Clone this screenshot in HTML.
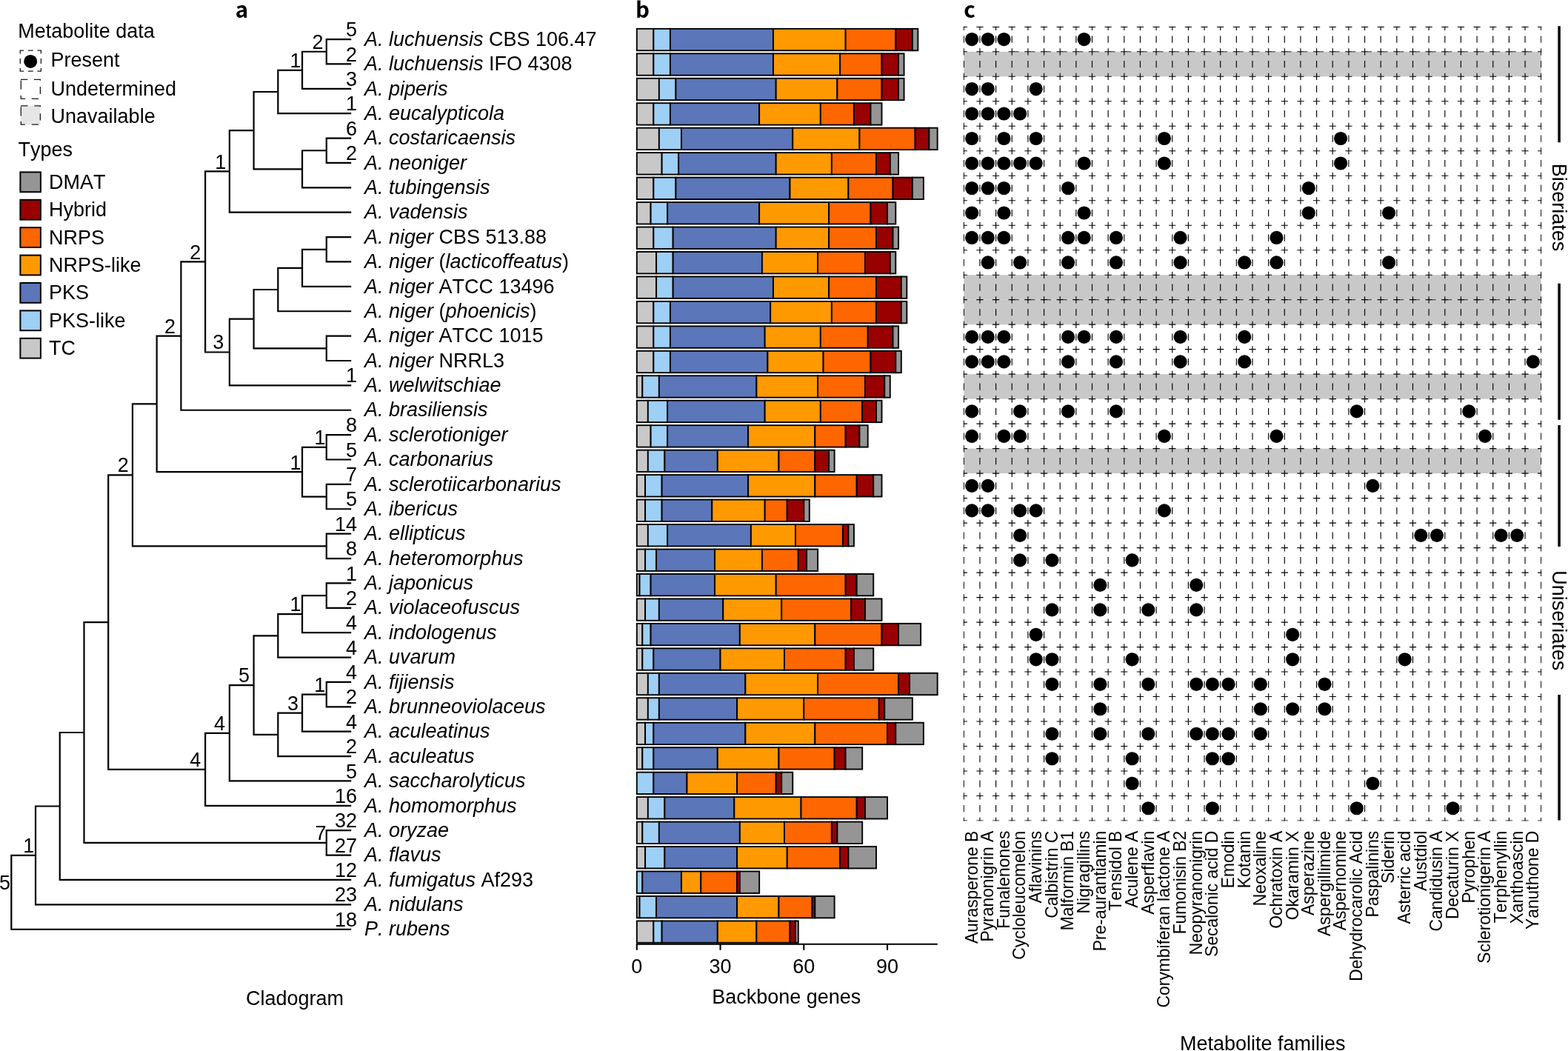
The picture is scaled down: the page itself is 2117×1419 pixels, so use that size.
<!DOCTYPE html>
<html><head><meta charset="utf-8"><title>Figure</title>
<style>
html,body{margin:0;padding:0;background:#fff;}
svg{display:block;}
text{font-family:"Liberation Sans",sans-serif;fill:#000;font-kerning:none;}
.pl{font-family:"Noto Sans CJK JP","Liberation Sans",sans-serif;font-weight:bold;}
.it{font-style:italic;}
</style></head><body>
<svg width="2117" height="1419" viewBox="0 0 2117 1419">
<rect x="0" y="0" width="2117" height="1419" fill="#fff"/>
<g font-size="29.5"><text class="pl" x="317.7" y="24.3">a</text><text class="pl" x="857.9" y="24.3">b</text><text class="pl" x="1301.3" y="24.3">c</text></g>
<g font-size="27"><text transform="translate(24.3 50.8) scale(1 1.042)">Metabolite data</text><text transform="translate(68.6 90.3) scale(1 1.042)">Present</text><text transform="translate(68.6 129.4) scale(1 1.042)">Undetermined</text><text transform="translate(68.6 165.7) scale(1 1.042)">Unavailable</text><text transform="translate(24.6 210.6) scale(1 1.042)">Types</text><rect x="27.4" y="232.4" width="27.5" height="26.8" fill="#959595" stroke="#000" stroke-width="2"/><text transform="translate(66 254.8) scale(1 1.042)">DMAT</text><rect x="27.4" y="269.8" width="27.5" height="26.8" fill="#990000" stroke="#000" stroke-width="2"/><text transform="translate(66 292.2) scale(1 1.042)">Hybrid</text><rect x="27.4" y="307.2" width="27.5" height="26.8" fill="#fe6600" stroke="#000" stroke-width="2"/><text transform="translate(66 329.6) scale(1 1.042)">NRPS</text><rect x="27.4" y="344.6" width="27.5" height="26.8" fill="#fe9900" stroke="#000" stroke-width="2"/><text transform="translate(66 367) scale(1 1.042)">NRPS-like</text><rect x="27.4" y="382" width="27.5" height="26.8" fill="#5b76b9" stroke="#000" stroke-width="2"/><text transform="translate(66 404.4) scale(1 1.042)">PKS</text><rect x="27.4" y="419.4" width="27.5" height="26.8" fill="#9ecff4" stroke="#000" stroke-width="2"/><text transform="translate(66 441.8) scale(1 1.042)">PKS-like</text><rect x="27.4" y="456.8" width="27.5" height="26.8" fill="#c8c8c8" stroke="#000" stroke-width="2"/><text transform="translate(66 479.2) scale(1 1.042)">TC</text></g>
<rect x="28.3" y="142.8" width="26.1" height="25.4" fill="#e6e6e6"/><path d="M26.7 68.1H32.2M37.8 68.1H44.7M50.4 68.1H56M26.7 96.1H32.2M37.8 96.1H44.7M50.4 96.1H56M27.3 68.1V72.6M27.3 79V85.9M27.3 92V96.5M55.4 68.1V72.6M55.4 79V85.9M55.4 92V96.5M28 107.4H37.4M45.9 107.4H55M54.4 107.4V108.8M54.4 117.1V126.9M28 133.3H34.2M42.7 133.3H52M28.3 108.6V120.8M28.3 128.9V133.9M28 142.8H37.4M46.3 142.8H55M54.4 142.8V144.3M54.4 153.2V162.5M28 168.2H33.8M42.7 168.2H52M28.3 144.3V156.4M28.3 163.7V168.8" fill="none" stroke="#1a1a1a" stroke-width="1.3"/>
<circle cx="41.2" cy="82.9" r="9.0" fill="#000"/>
<path d="M440.79 53.05H474.2M440.79 86.43H474.2M440.79 51.95V87.53M408.06 69.74H440.79M408.06 119.81H474.2M408.06 68.64V120.91M375.33 94.78H408.06M375.33 153.19H474.2M375.33 93.68V154.29M342.6 123.98H375.33M440.79 186.57H474.2M440.79 219.95H474.2M440.79 185.47V221.05M408.06 203.26H440.79M408.06 253.33H474.2M408.06 202.16V254.43M342.6 228.3H408.06M342.6 122.88V229.4M309.87 176.14H342.6M309.87 286.71H474.2M309.87 175.04V287.81M277.14 231.42H309.87M440.79 320.09H474.2M440.79 353.47H474.2M440.79 318.99V354.57M408.06 336.78H440.79M408.06 386.85H474.2M408.06 335.68V387.95M375.33 361.82H408.06M375.33 420.23H474.2M375.33 360.72V421.33M342.6 391.02H375.33M440.79 453.61H474.2M440.79 486.99H474.2M440.79 452.51V488.09M342.6 470.3H440.79M342.6 389.92V471.4M309.87 430.66H342.6M309.87 520.37H474.2M309.87 429.56V521.47M277.14 475.52H309.87M277.14 230.32V476.62M244.41 353.47H277.14M244.41 553.75H474.2M244.41 352.37V554.85M211.68 453.61H244.41M440.79 587.13H474.2M440.79 620.51H474.2M440.79 586.03V621.61M408.06 603.82H440.79M440.79 653.89H474.2M440.79 687.27H474.2M440.79 652.79V688.37M408.06 670.58H440.79M408.06 602.72V671.68M211.68 637.2H408.06M211.68 452.51V638.3M178.95 545.4H211.68M440.79 720.65H474.2M440.79 754.03H474.2M440.79 719.55V755.13M178.95 737.34H440.79M178.95 544.3V738.44M146.22 641.37H178.95M440.79 787.41H474.2M440.79 820.79H474.2M440.79 786.31V821.89M408.06 804.1H440.79M408.06 854.17H474.2M408.06 803V855.27M375.33 829.13H408.06M375.33 887.55H474.2M375.33 828.03V888.65M342.6 858.34H375.33M440.79 920.93H474.2M440.79 954.31H474.2M440.79 919.83V955.41M408.06 937.62H440.79M408.06 987.69H474.2M408.06 936.52V988.79M375.33 962.66H408.06M375.33 1021.07H474.2M375.33 961.56V1022.17M342.6 991.86H375.33M342.6 857.24V992.96M309.87 925.1H342.6M309.87 1054.45H474.2M309.87 924V1055.55M277.14 989.78H309.87M277.14 1087.83H474.2M277.14 988.68V1088.93M146.22 1038.8H277.14M146.22 640.27V1039.9M113.49 840.09H146.22M440.79 1121.21H474.2M440.79 1154.59H474.2M440.79 1120.11V1155.69M113.49 1137.9H440.79M113.49 838.99V1139M80.76 988.99H113.49M80.76 1187.97H474.2M80.76 987.89V1189.07M48.03 1088.48H80.76M48.03 1221.35H474.2M48.03 1087.38V1222.45M15.3 1154.92H48.03M15.3 1254.73H474.2M15.3 1153.82V1255.83" fill="none" stroke="#000" stroke-width="2.2"/>
<g font-size="27" text-anchor="end"><text transform="translate(436.4 65.9) scale(1 1.042)">2</text><text transform="translate(406.5 90.7) scale(1 1.042)">1</text><text transform="translate(305.2 227.9) scale(1 1.042)">1</text><text transform="translate(302.2 470.8) scale(1 1.042)">3</text><text transform="translate(271.3 349.5) scale(1 1.042)">2</text><text transform="translate(237 449.7) scale(1 1.042)">2</text><text transform="translate(439.6 599.9) scale(1 1.042)">1</text><text transform="translate(406.5 633.5) scale(1 1.042)">1</text><text transform="translate(173.7 637.4) scale(1 1.042)">2</text><text transform="translate(406.6 825.2) scale(1 1.042)">1</text><text transform="translate(439.3 933.7) scale(1 1.042)">1</text><text transform="translate(402.9 959) scale(1 1.042)">3</text><text transform="translate(336.95 921.4) scale(1 1.042)">5</text><text transform="translate(303.9 985.8) scale(1 1.042)">4</text><text transform="translate(271.2 1034.9) scale(1 1.042)">4</text><text transform="translate(440.4 1133.8) scale(1 1.042)">7</text><text transform="translate(46.3 1150.7) scale(1 1.042)">1</text><text transform="translate(13.97 1201.2) scale(1 1.042)">5</text><text transform="translate(482 49.15) scale(1 1.042)">5</text><text transform="translate(482 82.53) scale(1 1.042)">2</text><text transform="translate(482 115.91) scale(1 1.042)">3</text><text transform="translate(482 149.29) scale(1 1.042)">1</text><text transform="translate(482 182.67) scale(1 1.042)">6</text><text transform="translate(482 216.05) scale(1 1.042)">2</text><text transform="translate(482 516.47) scale(1 1.042)">1</text><text transform="translate(482 583.23) scale(1 1.042)">8</text><text transform="translate(482 616.61) scale(1 1.042)">5</text><text transform="translate(482 649.99) scale(1 1.042)">7</text><text transform="translate(482 683.37) scale(1 1.042)">5</text><text transform="translate(482 716.75) scale(1 1.042)">14</text><text transform="translate(482 750.13) scale(1 1.042)">8</text><text transform="translate(482 783.51) scale(1 1.042)">1</text><text transform="translate(482 816.89) scale(1 1.042)">2</text><text transform="translate(482 850.27) scale(1 1.042)">4</text><text transform="translate(482 883.65) scale(1 1.042)">4</text><text transform="translate(482 917.03) scale(1 1.042)">4</text><text transform="translate(482 950.41) scale(1 1.042)">2</text><text transform="translate(482 983.79) scale(1 1.042)">4</text><text transform="translate(482 1017.17) scale(1 1.042)">2</text><text transform="translate(482 1050.55) scale(1 1.042)">5</text><text transform="translate(482 1083.93) scale(1 1.042)">16</text><text transform="translate(482 1117.31) scale(1 1.042)">32</text><text transform="translate(482 1150.69) scale(1 1.042)">27</text><text transform="translate(482 1184.07) scale(1 1.042)">12</text><text transform="translate(482 1217.45) scale(1 1.042)">23</text><text transform="translate(482 1250.83) scale(1 1.042)">18</text></g>
<g font-size="27"><text transform="translate(492 61.75) scale(1 1.042)"><tspan class="it">A. luchuensis</tspan><tspan>&#160;CBS&#160;106.47</tspan></text><text transform="translate(492 95.13) scale(1 1.042)"><tspan class="it">A. luchuensis</tspan><tspan>&#160;IFO&#160;4308</tspan></text><text transform="translate(492 128.51) scale(1 1.042)"><tspan class="it">A. piperis</tspan></text><text transform="translate(492 161.89) scale(1 1.042)"><tspan class="it">A. eucalypticola</tspan></text><text transform="translate(492 195.27) scale(1 1.042)"><tspan class="it">A. costaricaensis</tspan></text><text transform="translate(492 228.65) scale(1 1.042)"><tspan class="it">A. neoniger</tspan></text><text transform="translate(492 262.03) scale(1 1.042)"><tspan class="it">A. tubingensis</tspan></text><text transform="translate(492 295.41) scale(1 1.042)"><tspan class="it">A. vadensis</tspan></text><text transform="translate(492 328.79) scale(1 1.042)"><tspan class="it">A. niger</tspan><tspan>&#160;CBS&#160;513.88</tspan></text><text transform="translate(492 362.17) scale(1 1.042)"><tspan class="it">A. niger</tspan><tspan>&#160;(</tspan><tspan class="it">lacticoffeatus</tspan><tspan>)</tspan></text><text transform="translate(492 395.55) scale(1 1.042)"><tspan class="it">A. niger</tspan><tspan>&#160;ATCC&#160;13496</tspan></text><text transform="translate(492 428.93) scale(1 1.042)"><tspan class="it">A. niger</tspan><tspan>&#160;(</tspan><tspan class="it">phoenicis</tspan><tspan>)</tspan></text><text transform="translate(492 462.31) scale(1 1.042)"><tspan class="it">A. niger</tspan><tspan>&#160;ATCC&#160;1015</tspan></text><text transform="translate(492 495.69) scale(1 1.042)"><tspan class="it">A. niger</tspan><tspan>&#160;NRRL3</tspan></text><text transform="translate(492 529.07) scale(1 1.042)"><tspan class="it">A. welwitschiae</tspan></text><text transform="translate(492 562.45) scale(1 1.042)"><tspan class="it">A. brasiliensis</tspan></text><text transform="translate(492 595.83) scale(1 1.042)"><tspan class="it">A. sclerotioniger</tspan></text><text transform="translate(492 629.21) scale(1 1.042)"><tspan class="it">A. carbonarius</tspan></text><text transform="translate(492 662.59) scale(1 1.042)"><tspan class="it">A. sclerotiicarbonarius</tspan></text><text transform="translate(492 695.97) scale(1 1.042)"><tspan class="it">A. ibericus</tspan></text><text transform="translate(492 729.35) scale(1 1.042)"><tspan class="it">A. ellipticus</tspan></text><text transform="translate(492 762.73) scale(1 1.042)"><tspan class="it">A. heteromorphus</tspan></text><text transform="translate(492 796.11) scale(1 1.042)"><tspan class="it">A. japonicus</tspan></text><text transform="translate(492 829.49) scale(1 1.042)"><tspan class="it">A. violaceofuscus</tspan></text><text transform="translate(492 862.87) scale(1 1.042)"><tspan class="it">A. indologenus</tspan></text><text transform="translate(492 896.25) scale(1 1.042)"><tspan class="it">A. uvarum</tspan></text><text transform="translate(492 929.63) scale(1 1.042)"><tspan class="it">A. fijiensis</tspan></text><text transform="translate(492 963.01) scale(1 1.042)"><tspan class="it">A. brunneoviolaceus</tspan></text><text transform="translate(492 996.39) scale(1 1.042)"><tspan class="it">A. aculeatinus</tspan></text><text transform="translate(492 1029.77) scale(1 1.042)"><tspan class="it">A. aculeatus</tspan></text><text transform="translate(492 1063.15) scale(1 1.042)"><tspan class="it">A. saccharolyticus</tspan></text><text transform="translate(492 1096.53) scale(1 1.042)"><tspan class="it">A. homomorphus</tspan></text><text transform="translate(492 1129.91) scale(1 1.042)"><tspan class="it">A. oryzae</tspan></text><text transform="translate(492 1163.29) scale(1 1.042)"><tspan class="it">A. flavus</tspan></text><text transform="translate(492 1196.67) scale(1 1.042)"><tspan class="it">A. fumigatus</tspan><tspan>&#160;Af293</tspan></text><text transform="translate(492 1230.05) scale(1 1.042)"><tspan class="it">A. nidulans</tspan></text><text transform="translate(492 1263.43) scale(1 1.042)"><tspan class="it">P. rubens</tspan></text></g>
<text transform="translate(398 1357.2) scale(1 1.042)" text-anchor="middle" font-size="27">Cladogram</text>
<g stroke="#000" stroke-width="1.9"><rect x="859.8" y="38.85" width="22.55" height="29.4" fill="#c8c8c8"/><rect x="882.35" y="38.85" width="22.55" height="29.4" fill="#9ecff4"/><rect x="904.9" y="38.85" width="139.05" height="29.4" fill="#5b76b9"/><rect x="1043.94" y="38.85" width="97.71" height="29.4" fill="#fe9900"/><rect x="1141.65" y="38.85" width="67.64" height="29.4" fill="#fe6600"/><rect x="1209.29" y="38.85" width="22.55" height="29.4" fill="#990000"/><rect x="1231.84" y="38.85" width="7.52" height="29.4" fill="#959595"/><rect x="859.8" y="72.31" width="22.55" height="29.4" fill="#c8c8c8"/><rect x="882.35" y="72.31" width="22.55" height="29.4" fill="#9ecff4"/><rect x="904.9" y="72.31" width="139.05" height="29.4" fill="#5b76b9"/><rect x="1043.94" y="72.31" width="90.19" height="29.4" fill="#fe9900"/><rect x="1134.13" y="72.31" width="56.37" height="29.4" fill="#fe6600"/><rect x="1190.5" y="72.31" width="22.55" height="29.4" fill="#990000"/><rect x="1213.05" y="72.31" width="7.52" height="29.4" fill="#959595"/><rect x="859.8" y="105.77" width="30.06" height="29.4" fill="#c8c8c8"/><rect x="889.86" y="105.77" width="22.55" height="29.4" fill="#9ecff4"/><rect x="912.41" y="105.77" width="135.29" height="29.4" fill="#5b76b9"/><rect x="1047.7" y="105.77" width="82.68" height="29.4" fill="#fe9900"/><rect x="1130.38" y="105.77" width="60.13" height="29.4" fill="#fe6600"/><rect x="1190.5" y="105.77" width="22.55" height="29.4" fill="#990000"/><rect x="1213.05" y="105.77" width="7.52" height="29.4" fill="#959595"/><rect x="859.8" y="139.23" width="22.55" height="29.4" fill="#c8c8c8"/><rect x="882.35" y="139.23" width="22.55" height="29.4" fill="#9ecff4"/><rect x="904.9" y="139.23" width="120.26" height="29.4" fill="#5b76b9"/><rect x="1025.15" y="139.23" width="82.68" height="29.4" fill="#fe9900"/><rect x="1107.83" y="139.23" width="45.1" height="29.4" fill="#fe6600"/><rect x="1152.92" y="139.23" width="22.55" height="29.4" fill="#990000"/><rect x="1175.47" y="139.23" width="15.03" height="29.4" fill="#959595"/><rect x="859.8" y="172.69" width="30.06" height="29.4" fill="#c8c8c8"/><rect x="889.86" y="172.69" width="30.06" height="29.4" fill="#9ecff4"/><rect x="919.93" y="172.69" width="150.32" height="29.4" fill="#5b76b9"/><rect x="1070.25" y="172.69" width="90.19" height="29.4" fill="#fe9900"/><rect x="1160.44" y="172.69" width="75.16" height="29.4" fill="#fe6600"/><rect x="1235.6" y="172.69" width="18.79" height="29.4" fill="#990000"/><rect x="1254.39" y="172.69" width="11.27" height="29.4" fill="#959595"/><rect x="859.8" y="206.15" width="33.82" height="29.4" fill="#c8c8c8"/><rect x="893.62" y="206.15" width="22.55" height="29.4" fill="#9ecff4"/><rect x="916.17" y="206.15" width="131.53" height="29.4" fill="#5b76b9"/><rect x="1047.7" y="206.15" width="75.16" height="29.4" fill="#fe9900"/><rect x="1122.86" y="206.15" width="60.13" height="29.4" fill="#fe6600"/><rect x="1182.99" y="206.15" width="18.79" height="29.4" fill="#990000"/><rect x="1201.78" y="206.15" width="11.27" height="29.4" fill="#959595"/><rect x="859.8" y="239.61" width="22.55" height="29.4" fill="#c8c8c8"/><rect x="882.35" y="239.61" width="30.06" height="29.4" fill="#9ecff4"/><rect x="912.41" y="239.61" width="154.08" height="29.4" fill="#5b76b9"/><rect x="1066.49" y="239.61" width="78.92" height="29.4" fill="#fe9900"/><rect x="1145.41" y="239.61" width="60.13" height="29.4" fill="#fe6600"/><rect x="1205.54" y="239.61" width="26.31" height="29.4" fill="#990000"/><rect x="1231.84" y="239.61" width="15.03" height="29.4" fill="#959595"/><rect x="859.8" y="273.07" width="18.79" height="29.4" fill="#c8c8c8"/><rect x="878.59" y="273.07" width="22.55" height="29.4" fill="#9ecff4"/><rect x="901.14" y="273.07" width="124.01" height="29.4" fill="#5b76b9"/><rect x="1025.15" y="273.07" width="93.95" height="29.4" fill="#fe9900"/><rect x="1119.1" y="273.07" width="56.37" height="29.4" fill="#fe6600"/><rect x="1175.47" y="273.07" width="22.55" height="29.4" fill="#990000"/><rect x="1198.02" y="273.07" width="11.27" height="29.4" fill="#959595"/><rect x="859.8" y="306.53" width="22.55" height="29.4" fill="#c8c8c8"/><rect x="882.35" y="306.53" width="26.31" height="29.4" fill="#9ecff4"/><rect x="908.65" y="306.53" width="139.05" height="29.4" fill="#5b76b9"/><rect x="1047.7" y="306.53" width="71.4" height="29.4" fill="#fe9900"/><rect x="1119.1" y="306.53" width="63.89" height="29.4" fill="#fe6600"/><rect x="1182.99" y="306.53" width="22.55" height="29.4" fill="#990000"/><rect x="1205.54" y="306.53" width="7.52" height="29.4" fill="#959595"/><rect x="859.8" y="339.99" width="26.31" height="29.4" fill="#c8c8c8"/><rect x="886.11" y="339.99" width="22.55" height="29.4" fill="#9ecff4"/><rect x="908.65" y="339.99" width="120.26" height="29.4" fill="#5b76b9"/><rect x="1028.91" y="339.99" width="75.16" height="29.4" fill="#fe9900"/><rect x="1104.07" y="339.99" width="63.89" height="29.4" fill="#fe6600"/><rect x="1167.96" y="339.99" width="33.82" height="29.4" fill="#990000"/><rect x="1201.78" y="339.99" width="7.52" height="29.4" fill="#959595"/><rect x="859.8" y="373.45" width="26.31" height="29.4" fill="#c8c8c8"/><rect x="886.11" y="373.45" width="22.55" height="29.4" fill="#9ecff4"/><rect x="908.65" y="373.45" width="135.29" height="29.4" fill="#5b76b9"/><rect x="1043.94" y="373.45" width="75.16" height="29.4" fill="#fe9900"/><rect x="1119.1" y="373.45" width="63.89" height="29.4" fill="#fe6600"/><rect x="1182.99" y="373.45" width="33.82" height="29.4" fill="#990000"/><rect x="1216.81" y="373.45" width="7.52" height="29.4" fill="#959595"/><rect x="859.8" y="406.91" width="22.55" height="29.4" fill="#c8c8c8"/><rect x="882.35" y="406.91" width="22.55" height="29.4" fill="#9ecff4"/><rect x="904.9" y="406.91" width="135.29" height="29.4" fill="#5b76b9"/><rect x="1040.18" y="406.91" width="82.68" height="29.4" fill="#fe9900"/><rect x="1122.86" y="406.91" width="60.13" height="29.4" fill="#fe6600"/><rect x="1182.99" y="406.91" width="33.82" height="29.4" fill="#990000"/><rect x="1216.81" y="406.91" width="7.52" height="29.4" fill="#959595"/><rect x="859.8" y="440.37" width="22.55" height="29.4" fill="#c8c8c8"/><rect x="882.35" y="440.37" width="22.55" height="29.4" fill="#9ecff4"/><rect x="904.9" y="440.37" width="127.77" height="29.4" fill="#5b76b9"/><rect x="1032.67" y="440.37" width="75.16" height="29.4" fill="#fe9900"/><rect x="1107.83" y="440.37" width="63.89" height="29.4" fill="#fe6600"/><rect x="1171.71" y="440.37" width="33.82" height="29.4" fill="#990000"/><rect x="1205.54" y="440.37" width="7.52" height="29.4" fill="#959595"/><rect x="859.8" y="473.83" width="22.55" height="29.4" fill="#c8c8c8"/><rect x="882.35" y="473.83" width="22.55" height="29.4" fill="#9ecff4"/><rect x="904.9" y="473.83" width="131.53" height="29.4" fill="#5b76b9"/><rect x="1036.43" y="473.83" width="75.16" height="29.4" fill="#fe9900"/><rect x="1111.59" y="473.83" width="63.89" height="29.4" fill="#fe6600"/><rect x="1175.47" y="473.83" width="33.82" height="29.4" fill="#990000"/><rect x="1209.29" y="473.83" width="7.52" height="29.4" fill="#959595"/><rect x="859.8" y="507.29" width="7.52" height="29.4" fill="#c8c8c8"/><rect x="867.32" y="507.29" width="22.55" height="29.4" fill="#9ecff4"/><rect x="889.86" y="507.29" width="131.53" height="29.4" fill="#5b76b9"/><rect x="1021.39" y="507.29" width="82.68" height="29.4" fill="#fe9900"/><rect x="1104.07" y="507.29" width="63.89" height="29.4" fill="#fe6600"/><rect x="1167.96" y="507.29" width="26.31" height="29.4" fill="#990000"/><rect x="1194.26" y="507.29" width="7.52" height="29.4" fill="#959595"/><rect x="859.8" y="540.75" width="15.03" height="29.4" fill="#c8c8c8"/><rect x="874.83" y="540.75" width="26.31" height="29.4" fill="#9ecff4"/><rect x="901.14" y="540.75" width="131.53" height="29.4" fill="#5b76b9"/><rect x="1032.67" y="540.75" width="75.16" height="29.4" fill="#fe9900"/><rect x="1107.83" y="540.75" width="56.37" height="29.4" fill="#fe6600"/><rect x="1164.2" y="540.75" width="18.79" height="29.4" fill="#990000"/><rect x="1182.99" y="540.75" width="7.52" height="29.4" fill="#959595"/><rect x="859.8" y="574.21" width="18.79" height="29.4" fill="#c8c8c8"/><rect x="878.59" y="574.21" width="22.55" height="29.4" fill="#9ecff4"/><rect x="901.14" y="574.21" width="108.98" height="29.4" fill="#5b76b9"/><rect x="1010.12" y="574.21" width="90.19" height="29.4" fill="#fe9900"/><rect x="1100.31" y="574.21" width="41.34" height="29.4" fill="#fe6600"/><rect x="1141.65" y="574.21" width="18.79" height="29.4" fill="#990000"/><rect x="1160.44" y="574.21" width="11.27" height="29.4" fill="#959595"/><rect x="859.8" y="607.67" width="15.03" height="29.4" fill="#c8c8c8"/><rect x="874.83" y="607.67" width="22.55" height="29.4" fill="#9ecff4"/><rect x="897.38" y="607.67" width="71.4" height="29.4" fill="#5b76b9"/><rect x="968.78" y="607.67" width="82.68" height="29.4" fill="#fe9900"/><rect x="1051.46" y="607.67" width="48.85" height="29.4" fill="#fe6600"/><rect x="1100.31" y="607.67" width="18.79" height="29.4" fill="#990000"/><rect x="1119.1" y="607.67" width="7.52" height="29.4" fill="#959595"/><rect x="859.8" y="641.13" width="11.27" height="29.4" fill="#c8c8c8"/><rect x="871.07" y="641.13" width="22.55" height="29.4" fill="#9ecff4"/><rect x="893.62" y="641.13" width="116.5" height="29.4" fill="#5b76b9"/><rect x="1010.12" y="641.13" width="90.19" height="29.4" fill="#fe9900"/><rect x="1100.31" y="641.13" width="56.37" height="29.4" fill="#fe6600"/><rect x="1156.68" y="641.13" width="22.55" height="29.4" fill="#990000"/><rect x="1179.23" y="641.13" width="11.27" height="29.4" fill="#959595"/><rect x="859.8" y="674.59" width="11.27" height="29.4" fill="#c8c8c8"/><rect x="871.07" y="674.59" width="22.55" height="29.4" fill="#9ecff4"/><rect x="893.62" y="674.59" width="67.64" height="29.4" fill="#5b76b9"/><rect x="961.27" y="674.59" width="71.4" height="29.4" fill="#fe9900"/><rect x="1032.67" y="674.59" width="30.06" height="29.4" fill="#fe6600"/><rect x="1062.73" y="674.59" width="22.55" height="29.4" fill="#990000"/><rect x="1085.28" y="674.59" width="7.52" height="29.4" fill="#959595"/><rect x="859.8" y="708.05" width="15.03" height="29.4" fill="#c8c8c8"/><rect x="874.83" y="708.05" width="26.31" height="29.4" fill="#9ecff4"/><rect x="901.14" y="708.05" width="112.74" height="29.4" fill="#5b76b9"/><rect x="1013.88" y="708.05" width="60.13" height="29.4" fill="#fe9900"/><rect x="1074.01" y="708.05" width="63.89" height="29.4" fill="#fe6600"/><rect x="1137.89" y="708.05" width="7.52" height="29.4" fill="#990000"/><rect x="1145.41" y="708.05" width="7.52" height="29.4" fill="#959595"/><rect x="859.8" y="741.51" width="11.27" height="29.4" fill="#c8c8c8"/><rect x="871.07" y="741.51" width="15.03" height="29.4" fill="#9ecff4"/><rect x="886.11" y="741.51" width="78.92" height="29.4" fill="#5b76b9"/><rect x="965.02" y="741.51" width="63.89" height="29.4" fill="#fe9900"/><rect x="1028.91" y="741.51" width="48.85" height="29.4" fill="#fe6600"/><rect x="1077.76" y="741.51" width="11.27" height="29.4" fill="#990000"/><rect x="1089.04" y="741.51" width="15.03" height="29.4" fill="#959595"/><rect x="859.8" y="774.97" width="3.76" height="29.4" fill="#c8c8c8"/><rect x="863.56" y="774.97" width="15.03" height="29.4" fill="#9ecff4"/><rect x="878.59" y="774.97" width="86.43" height="29.4" fill="#5b76b9"/><rect x="965.02" y="774.97" width="82.68" height="29.4" fill="#fe9900"/><rect x="1047.7" y="774.97" width="93.95" height="29.4" fill="#fe6600"/><rect x="1141.65" y="774.97" width="15.03" height="29.4" fill="#990000"/><rect x="1156.68" y="774.97" width="22.55" height="29.4" fill="#959595"/><rect x="859.8" y="808.43" width="11.27" height="29.4" fill="#c8c8c8"/><rect x="871.07" y="808.43" width="18.79" height="29.4" fill="#9ecff4"/><rect x="889.86" y="808.43" width="86.43" height="29.4" fill="#5b76b9"/><rect x="976.3" y="808.43" width="78.92" height="29.4" fill="#fe9900"/><rect x="1055.22" y="808.43" width="93.95" height="29.4" fill="#fe6600"/><rect x="1149.17" y="808.43" width="18.79" height="29.4" fill="#990000"/><rect x="1167.96" y="808.43" width="22.55" height="29.4" fill="#959595"/><rect x="859.8" y="841.89" width="7.52" height="29.4" fill="#c8c8c8"/><rect x="867.32" y="841.89" width="11.27" height="29.4" fill="#9ecff4"/><rect x="878.59" y="841.89" width="120.26" height="29.4" fill="#5b76b9"/><rect x="998.85" y="841.89" width="101.47" height="29.4" fill="#fe9900"/><rect x="1100.31" y="841.89" width="90.19" height="29.4" fill="#fe6600"/><rect x="1190.5" y="841.89" width="22.55" height="29.4" fill="#990000"/><rect x="1213.05" y="841.89" width="30.06" height="29.4" fill="#959595"/><rect x="859.8" y="875.35" width="7.52" height="29.4" fill="#c8c8c8"/><rect x="867.32" y="875.35" width="15.03" height="29.4" fill="#9ecff4"/><rect x="882.35" y="875.35" width="90.19" height="29.4" fill="#5b76b9"/><rect x="972.54" y="875.35" width="86.43" height="29.4" fill="#fe9900"/><rect x="1058.97" y="875.35" width="82.68" height="29.4" fill="#fe6600"/><rect x="1141.65" y="875.35" width="11.27" height="29.4" fill="#990000"/><rect x="1152.92" y="875.35" width="26.31" height="29.4" fill="#959595"/><rect x="859.8" y="908.81" width="15.03" height="29.4" fill="#c8c8c8"/><rect x="874.83" y="908.81" width="15.03" height="29.4" fill="#9ecff4"/><rect x="889.86" y="908.81" width="116.5" height="29.4" fill="#5b76b9"/><rect x="1006.36" y="908.81" width="97.71" height="29.4" fill="#fe9900"/><rect x="1104.07" y="908.81" width="108.98" height="29.4" fill="#fe6600"/><rect x="1213.05" y="908.81" width="15.03" height="29.4" fill="#990000"/><rect x="1228.08" y="908.81" width="37.58" height="29.4" fill="#959595"/><rect x="859.8" y="942.27" width="15.03" height="29.4" fill="#c8c8c8"/><rect x="874.83" y="942.27" width="15.03" height="29.4" fill="#9ecff4"/><rect x="889.86" y="942.27" width="105.22" height="29.4" fill="#5b76b9"/><rect x="995.09" y="942.27" width="90.19" height="29.4" fill="#fe9900"/><rect x="1085.28" y="942.27" width="101.47" height="29.4" fill="#fe6600"/><rect x="1186.75" y="942.27" width="7.52" height="29.4" fill="#990000"/><rect x="1194.26" y="942.27" width="37.58" height="29.4" fill="#959595"/><rect x="859.8" y="975.73" width="11.27" height="29.4" fill="#c8c8c8"/><rect x="871.07" y="975.73" width="11.27" height="29.4" fill="#9ecff4"/><rect x="882.35" y="975.73" width="124.01" height="29.4" fill="#5b76b9"/><rect x="1006.36" y="975.73" width="93.95" height="29.4" fill="#fe9900"/><rect x="1100.31" y="975.73" width="97.71" height="29.4" fill="#fe6600"/><rect x="1198.02" y="975.73" width="11.27" height="29.4" fill="#990000"/><rect x="1209.29" y="975.73" width="37.58" height="29.4" fill="#959595"/><rect x="859.8" y="1009.19" width="7.52" height="29.4" fill="#c8c8c8"/><rect x="867.32" y="1009.19" width="15.03" height="29.4" fill="#9ecff4"/><rect x="882.35" y="1009.19" width="86.43" height="29.4" fill="#5b76b9"/><rect x="968.78" y="1009.19" width="82.68" height="29.4" fill="#fe9900"/><rect x="1051.46" y="1009.19" width="75.16" height="29.4" fill="#fe6600"/><rect x="1126.62" y="1009.19" width="15.03" height="29.4" fill="#990000"/><rect x="1141.65" y="1009.19" width="22.55" height="29.4" fill="#959595"/><rect x="859.8" y="1042.65" width="22.55" height="29.4" fill="#9ecff4"/><rect x="882.35" y="1042.65" width="45.1" height="29.4" fill="#5b76b9"/><rect x="927.44" y="1042.65" width="67.64" height="29.4" fill="#fe9900"/><rect x="995.09" y="1042.65" width="52.61" height="29.4" fill="#fe6600"/><rect x="1047.7" y="1042.65" width="7.52" height="29.4" fill="#990000"/><rect x="1055.22" y="1042.65" width="15.03" height="29.4" fill="#959595"/><rect x="859.8" y="1076.11" width="15.03" height="29.4" fill="#c8c8c8"/><rect x="874.83" y="1076.11" width="22.55" height="29.4" fill="#9ecff4"/><rect x="897.38" y="1076.11" width="93.95" height="29.4" fill="#5b76b9"/><rect x="991.33" y="1076.11" width="90.19" height="29.4" fill="#fe9900"/><rect x="1081.52" y="1076.11" width="75.16" height="29.4" fill="#fe6600"/><rect x="1156.68" y="1076.11" width="11.27" height="29.4" fill="#990000"/><rect x="1167.96" y="1076.11" width="30.06" height="29.4" fill="#959595"/><rect x="859.8" y="1109.57" width="7.52" height="29.4" fill="#c8c8c8"/><rect x="867.32" y="1109.57" width="22.55" height="29.4" fill="#9ecff4"/><rect x="889.86" y="1109.57" width="108.98" height="29.4" fill="#5b76b9"/><rect x="998.85" y="1109.57" width="60.13" height="29.4" fill="#fe9900"/><rect x="1058.97" y="1109.57" width="63.89" height="29.4" fill="#fe6600"/><rect x="1122.86" y="1109.57" width="7.52" height="29.4" fill="#990000"/><rect x="1130.38" y="1109.57" width="33.82" height="29.4" fill="#959595"/><rect x="859.8" y="1143.03" width="11.27" height="29.4" fill="#c8c8c8"/><rect x="871.07" y="1143.03" width="26.31" height="29.4" fill="#9ecff4"/><rect x="897.38" y="1143.03" width="97.71" height="29.4" fill="#5b76b9"/><rect x="995.09" y="1143.03" width="67.64" height="29.4" fill="#fe9900"/><rect x="1062.73" y="1143.03" width="71.4" height="29.4" fill="#fe6600"/><rect x="1134.13" y="1143.03" width="11.27" height="29.4" fill="#990000"/><rect x="1145.41" y="1143.03" width="37.58" height="29.4" fill="#959595"/><rect x="859.8" y="1176.49" width="7.52" height="29.4" fill="#9ecff4"/><rect x="867.32" y="1176.49" width="52.61" height="29.4" fill="#5b76b9"/><rect x="919.93" y="1176.49" width="26.31" height="29.4" fill="#fe9900"/><rect x="946.23" y="1176.49" width="48.85" height="29.4" fill="#fe6600"/><rect x="995.09" y="1176.49" width="3.76" height="29.4" fill="#990000"/><rect x="998.85" y="1176.49" width="26.31" height="29.4" fill="#959595"/><rect x="859.8" y="1209.95" width="3.76" height="29.4" fill="#c8c8c8"/><rect x="863.56" y="1209.95" width="22.55" height="29.4" fill="#9ecff4"/><rect x="886.11" y="1209.95" width="108.98" height="29.4" fill="#5b76b9"/><rect x="995.09" y="1209.95" width="56.37" height="29.4" fill="#fe9900"/><rect x="1051.46" y="1209.95" width="45.1" height="29.4" fill="#fe6600"/><rect x="1096.55" y="1209.95" width="3.76" height="29.4" fill="#990000"/><rect x="1100.31" y="1209.95" width="26.31" height="29.4" fill="#959595"/><rect x="859.8" y="1243.41" width="22.55" height="29.4" fill="#c8c8c8"/><rect x="882.35" y="1243.41" width="11.27" height="29.4" fill="#9ecff4"/><rect x="893.62" y="1243.41" width="75.16" height="29.4" fill="#5b76b9"/><rect x="968.78" y="1243.41" width="52.61" height="29.4" fill="#fe9900"/><rect x="1021.39" y="1243.41" width="45.1" height="29.4" fill="#fe6600"/><rect x="1066.49" y="1243.41" width="7.52" height="29.4" fill="#990000"/><rect x="1074.01" y="1243.41" width="3.76" height="29.4" fill="#959595"/></g>
<path d="M858.9 1274.7H1265.8M859.8 1274.7V1282.7M972.54 1274.7V1282.7M1085.28 1274.7V1282.7M1198.02 1274.7V1282.7" fill="none" stroke="#000" stroke-width="2.1"/>
<g font-size="27" text-anchor="middle"><text transform="translate(859.8 1313.6) scale(1 1.042)">0</text><text transform="translate(972.54 1313.6) scale(1 1.042)">30</text><text transform="translate(1085.28 1313.6) scale(1 1.042)">60</text><text transform="translate(1198.02 1313.6) scale(1 1.042)">90</text><text transform="translate(1061.7 1354.7) scale(1 1.042)">Backbone genes</text></g>
<rect x="1301.3" y="69.79" width="779.4" height="33.49" fill="#c8c8c8"/><rect x="1301.3" y="371.2" width="779.4" height="33.49" fill="#c8c8c8"/><rect x="1301.3" y="404.69" width="779.4" height="33.49" fill="#c8c8c8"/><rect x="1301.3" y="505.16" width="779.4" height="33.49" fill="#c8c8c8"/><rect x="1301.3" y="605.63" width="779.4" height="33.49" fill="#c8c8c8"/>
<defs><clipPath id="gc"><rect x="1300.7" y="35.7" width="780.6" height="1072.88"/></clipPath></defs>
<g clip-path="url(#gc)" fill="none" stroke="#000" stroke-width="1.15"><path d="M1301.3 31.7V1112.58M1322.95 31.7V1112.58M1344.6 31.7V1112.58M1366.25 31.7V1112.58M1387.9 31.7V1112.58M1409.55 31.7V1112.58M1431.2 31.7V1112.58M1452.85 31.7V1112.58M1474.5 31.7V1112.58M1496.15 31.7V1112.58M1517.8 31.7V1112.58M1539.45 31.7V1112.58M1561.1 31.7V1112.58M1582.75 31.7V1112.58M1604.4 31.7V1112.58M1626.05 31.7V1112.58M1647.7 31.7V1112.58M1669.35 31.7V1112.58M1691 31.7V1112.58M1712.65 31.7V1112.58M1734.3 31.7V1112.58M1755.95 31.7V1112.58M1777.6 31.7V1112.58M1799.25 31.7V1112.58M1820.9 31.7V1112.58M1842.55 31.7V1112.58M1864.2 31.7V1112.58M1885.85 31.7V1112.58M1907.5 31.7V1112.58M1929.15 31.7V1112.58M1950.8 31.7V1112.58M1972.45 31.7V1112.58M1994.1 31.7V1112.58M2015.75 31.7V1112.58M2037.4 31.7V1112.58M2059.05 31.7V1112.58M2080.7 31.7V1112.58" stroke-dasharray="9.2 7.55"/><path d="M1296.7 36.3H2085.3M1296.7 69.79H2085.3M1296.7 103.28H2085.3M1296.7 136.77H2085.3M1296.7 170.26H2085.3M1296.7 203.75H2085.3M1296.7 237.24H2085.3M1296.7 270.73H2085.3M1296.7 304.22H2085.3M1296.7 337.71H2085.3M1296.7 371.2H2085.3M1296.7 404.69H2085.3M1296.7 438.18H2085.3M1296.7 471.67H2085.3M1296.7 505.16H2085.3M1296.7 538.65H2085.3M1296.7 572.14H2085.3M1296.7 605.63H2085.3M1296.7 639.12H2085.3M1296.7 672.61H2085.3M1296.7 706.1H2085.3M1296.7 739.59H2085.3M1296.7 773.08H2085.3M1296.7 806.57H2085.3M1296.7 840.06H2085.3M1296.7 873.55H2085.3M1296.7 907.04H2085.3M1296.7 940.53H2085.3M1296.7 974.02H2085.3M1296.7 1007.51H2085.3M1296.7 1041H2085.3M1296.7 1074.49H2085.3M1296.7 1107.98H2085.3" stroke-dasharray="9.2 12.45"/></g>
<path d="M1370.85 69.79H1375.65M1392.5 69.79H1397.3M1414.15 69.79H1418.95M1435.8 69.79H1440.6M1457.45 69.79H1462.25M1479.1 69.79H1483.9M1500.75 69.79H1505.55M1522.4 69.79H1527.2M1544.05 69.79H1548.85M1565.7 69.79H1570.5M1587.35 69.79H1592.15M1609 69.79H1613.8M1630.65 69.79H1635.45M1652.3 69.79H1657.1M1673.95 69.79H1678.75M1695.6 69.79H1700.4M1717.25 69.79H1722.05M1738.9 69.79H1743.7M1760.55 69.79H1765.35M1782.2 69.79H1787M1803.85 69.79H1808.65M1825.5 69.79H1830.3M1847.15 69.79H1851.95M1868.8 69.79H1873.6M1890.45 69.79H1895.25M1912.1 69.79H1916.9M1933.75 69.79H1938.55M1955.4 69.79H1960.2M1977.05 69.79H1981.85M1998.7 69.79H2003.5M2020.35 69.79H2025.15M2042 69.79H2046.8M2063.65 69.79H2068.45M1370.85 404.69H1375.65M1392.5 404.69H1397.3M1414.15 404.69H1418.95M1435.8 404.69H1440.6M1457.45 404.69H1462.25M1479.1 404.69H1483.9M1500.75 404.69H1505.55M1522.4 404.69H1527.2M1544.05 404.69H1548.85M1565.7 404.69H1570.5M1587.35 404.69H1592.15M1609 404.69H1613.8M1630.65 404.69H1635.45M1652.3 404.69H1657.1M1673.95 404.69H1678.75M1695.6 404.69H1700.4M1717.25 404.69H1722.05M1738.9 404.69H1743.7M1760.55 404.69H1765.35M1782.2 404.69H1787M1803.85 404.69H1808.65M1825.5 404.69H1830.3M1847.15 404.69H1851.95M1868.8 404.69H1873.6M1890.45 404.69H1895.25M1912.1 404.69H1916.9M1933.75 404.69H1938.55M1955.4 404.69H1960.2M1977.05 404.69H1981.85M1998.7 404.69H2003.5M2020.35 404.69H2025.15M2042 404.69H2046.8M2063.65 404.69H2068.45" stroke="#2a2a2a" stroke-width="1" fill="none"/>
<g fill="#000"><circle cx="1312.12" cy="53.05" r="9.1"/><circle cx="1333.77" cy="53.05" r="9.1"/><circle cx="1355.42" cy="53.05" r="9.1"/><circle cx="1463.67" cy="53.05" r="9.1"/><circle cx="1312.12" cy="120.03" r="9.1"/><circle cx="1333.77" cy="120.03" r="9.1"/><circle cx="1398.72" cy="120.03" r="9.1"/><circle cx="1312.12" cy="153.51" r="9.1"/><circle cx="1333.77" cy="153.51" r="9.1"/><circle cx="1355.42" cy="153.51" r="9.1"/><circle cx="1377.08" cy="153.51" r="9.1"/><circle cx="1312.12" cy="187" r="9.1"/><circle cx="1355.42" cy="187" r="9.1"/><circle cx="1398.72" cy="187" r="9.1"/><circle cx="1571.92" cy="187" r="9.1"/><circle cx="1810.07" cy="187" r="9.1"/><circle cx="1312.12" cy="220.5" r="9.1"/><circle cx="1333.77" cy="220.5" r="9.1"/><circle cx="1355.42" cy="220.5" r="9.1"/><circle cx="1377.08" cy="220.5" r="9.1"/><circle cx="1398.72" cy="220.5" r="9.1"/><circle cx="1463.67" cy="220.5" r="9.1"/><circle cx="1571.92" cy="220.5" r="9.1"/><circle cx="1810.07" cy="220.5" r="9.1"/><circle cx="1312.12" cy="253.99" r="9.1"/><circle cx="1333.77" cy="253.99" r="9.1"/><circle cx="1355.42" cy="253.99" r="9.1"/><circle cx="1442.02" cy="253.99" r="9.1"/><circle cx="1766.77" cy="253.99" r="9.1"/><circle cx="1312.12" cy="287.48" r="9.1"/><circle cx="1355.42" cy="287.48" r="9.1"/><circle cx="1463.67" cy="287.48" r="9.1"/><circle cx="1766.77" cy="287.48" r="9.1"/><circle cx="1875.02" cy="287.48" r="9.1"/><circle cx="1312.12" cy="320.97" r="9.1"/><circle cx="1333.77" cy="320.97" r="9.1"/><circle cx="1355.42" cy="320.97" r="9.1"/><circle cx="1442.02" cy="320.97" r="9.1"/><circle cx="1463.67" cy="320.97" r="9.1"/><circle cx="1506.97" cy="320.97" r="9.1"/><circle cx="1593.57" cy="320.97" r="9.1"/><circle cx="1723.47" cy="320.97" r="9.1"/><circle cx="1333.77" cy="354.46" r="9.1"/><circle cx="1377.08" cy="354.46" r="9.1"/><circle cx="1442.02" cy="354.46" r="9.1"/><circle cx="1506.97" cy="354.46" r="9.1"/><circle cx="1593.57" cy="354.46" r="9.1"/><circle cx="1680.17" cy="354.46" r="9.1"/><circle cx="1723.47" cy="354.46" r="9.1"/><circle cx="1875.02" cy="354.46" r="9.1"/><circle cx="1312.12" cy="454.93" r="9.1"/><circle cx="1333.77" cy="454.93" r="9.1"/><circle cx="1355.42" cy="454.93" r="9.1"/><circle cx="1442.02" cy="454.93" r="9.1"/><circle cx="1463.67" cy="454.93" r="9.1"/><circle cx="1506.97" cy="454.93" r="9.1"/><circle cx="1593.57" cy="454.93" r="9.1"/><circle cx="1680.17" cy="454.93" r="9.1"/><circle cx="1312.12" cy="488.42" r="9.1"/><circle cx="1333.77" cy="488.42" r="9.1"/><circle cx="1355.42" cy="488.42" r="9.1"/><circle cx="1442.02" cy="488.42" r="9.1"/><circle cx="1506.97" cy="488.42" r="9.1"/><circle cx="1593.57" cy="488.42" r="9.1"/><circle cx="1680.17" cy="488.42" r="9.1"/><circle cx="2069.88" cy="488.42" r="9.1"/><circle cx="1312.12" cy="555.39" r="9.1"/><circle cx="1377.08" cy="555.39" r="9.1"/><circle cx="1442.02" cy="555.39" r="9.1"/><circle cx="1506.97" cy="555.39" r="9.1"/><circle cx="1831.72" cy="555.39" r="9.1"/><circle cx="1983.27" cy="555.39" r="9.1"/><circle cx="1312.12" cy="588.88" r="9.1"/><circle cx="1355.42" cy="588.88" r="9.1"/><circle cx="1377.08" cy="588.88" r="9.1"/><circle cx="1571.92" cy="588.88" r="9.1"/><circle cx="1723.47" cy="588.88" r="9.1"/><circle cx="2004.92" cy="588.88" r="9.1"/><circle cx="1312.12" cy="655.87" r="9.1"/><circle cx="1333.77" cy="655.87" r="9.1"/><circle cx="1853.38" cy="655.87" r="9.1"/><circle cx="1312.12" cy="689.36" r="9.1"/><circle cx="1333.77" cy="689.36" r="9.1"/><circle cx="1377.08" cy="689.36" r="9.1"/><circle cx="1398.72" cy="689.36" r="9.1"/><circle cx="1571.92" cy="689.36" r="9.1"/><circle cx="1377.08" cy="722.85" r="9.1"/><circle cx="1918.32" cy="722.85" r="9.1"/><circle cx="1939.97" cy="722.85" r="9.1"/><circle cx="2026.57" cy="722.85" r="9.1"/><circle cx="2048.22" cy="722.85" r="9.1"/><circle cx="1377.08" cy="756.34" r="9.1"/><circle cx="1420.38" cy="756.34" r="9.1"/><circle cx="1528.62" cy="756.34" r="9.1"/><circle cx="1485.32" cy="789.83" r="9.1"/><circle cx="1615.22" cy="789.83" r="9.1"/><circle cx="1420.38" cy="823.32" r="9.1"/><circle cx="1485.32" cy="823.32" r="9.1"/><circle cx="1550.27" cy="823.32" r="9.1"/><circle cx="1615.22" cy="823.32" r="9.1"/><circle cx="1398.72" cy="856.8" r="9.1"/><circle cx="1745.12" cy="856.8" r="9.1"/><circle cx="1398.72" cy="890.29" r="9.1"/><circle cx="1420.38" cy="890.29" r="9.1"/><circle cx="1528.62" cy="890.29" r="9.1"/><circle cx="1745.12" cy="890.29" r="9.1"/><circle cx="1896.67" cy="890.29" r="9.1"/><circle cx="1420.38" cy="923.78" r="9.1"/><circle cx="1485.32" cy="923.78" r="9.1"/><circle cx="1550.27" cy="923.78" r="9.1"/><circle cx="1615.22" cy="923.78" r="9.1"/><circle cx="1636.88" cy="923.78" r="9.1"/><circle cx="1658.52" cy="923.78" r="9.1"/><circle cx="1701.82" cy="923.78" r="9.1"/><circle cx="1788.42" cy="923.78" r="9.1"/><circle cx="1485.32" cy="957.27" r="9.1"/><circle cx="1701.82" cy="957.27" r="9.1"/><circle cx="1745.12" cy="957.27" r="9.1"/><circle cx="1788.42" cy="957.27" r="9.1"/><circle cx="1420.38" cy="990.76" r="9.1"/><circle cx="1485.32" cy="990.76" r="9.1"/><circle cx="1550.27" cy="990.76" r="9.1"/><circle cx="1615.22" cy="990.76" r="9.1"/><circle cx="1636.88" cy="990.76" r="9.1"/><circle cx="1658.52" cy="990.76" r="9.1"/><circle cx="1701.82" cy="990.76" r="9.1"/><circle cx="1420.38" cy="1024.26" r="9.1"/><circle cx="1528.62" cy="1024.26" r="9.1"/><circle cx="1636.88" cy="1024.26" r="9.1"/><circle cx="1658.52" cy="1024.26" r="9.1"/><circle cx="1528.62" cy="1057.75" r="9.1"/><circle cx="1853.38" cy="1057.75" r="9.1"/><circle cx="1550.27" cy="1091.24" r="9.1"/><circle cx="1636.88" cy="1091.24" r="9.1"/><circle cx="1831.72" cy="1091.24" r="9.1"/><circle cx="1961.62" cy="1091.24" r="9.1"/></g>
<g font-size="22.85" text-anchor="end"><text transform="translate(1319.53 1121.7) rotate(-90) scale(1 1.042)">Aurasperone B</text><text transform="translate(1341.17 1121.7) rotate(-90) scale(1 1.042)">Pyranonigrin A</text><text transform="translate(1362.83 1121.7) rotate(-90) scale(1 1.042)">Funalenones</text><text transform="translate(1384.48 1121.7) rotate(-90) scale(1 1.042)">Cycloleucomelon</text><text transform="translate(1406.12 1121.7) rotate(-90) scale(1 1.042)">Aflavinins</text><text transform="translate(1427.78 1121.7) rotate(-90) scale(1 1.042)">Calbistrin C</text><text transform="translate(1449.42 1121.7) rotate(-90) scale(1 1.042)">Malformin B1</text><text transform="translate(1471.08 1121.7) rotate(-90) scale(1 1.042)">Nigragillins</text><text transform="translate(1492.72 1121.7) rotate(-90) scale(1 1.042)">Pre-aurantiamin</text><text transform="translate(1514.38 1121.7) rotate(-90) scale(1 1.042)">Tensidol B</text><text transform="translate(1536.03 1121.7) rotate(-90) scale(1 1.042)">Aculene A</text><text transform="translate(1557.67 1121.7) rotate(-90) scale(1 1.042)">Asperflavin</text><text transform="translate(1579.33 1121.7) rotate(-90) scale(1 1.042)">Corymbiferan lactone A</text><text transform="translate(1600.97 1121.7) rotate(-90) scale(1 1.042)">Fumonisin B2</text><text transform="translate(1622.62 1121.7) rotate(-90) scale(1 1.042)">Neopyranonigrin</text><text transform="translate(1644.28 1121.7) rotate(-90) scale(1 1.042)">Secalonic acid D</text><text transform="translate(1665.92 1121.7) rotate(-90) scale(1 1.042)">Emodin</text><text transform="translate(1687.58 1121.7) rotate(-90) scale(1 1.042)">Kotanin</text><text transform="translate(1709.22 1121.7) rotate(-90) scale(1 1.042)">Neoxaline</text><text transform="translate(1730.88 1121.7) rotate(-90) scale(1 1.042)">Ochratoxin A</text><text transform="translate(1752.53 1121.7) rotate(-90) scale(1 1.042)">Okaramin X</text><text transform="translate(1774.17 1121.7) rotate(-90) scale(1 1.042)">Asperazine</text><text transform="translate(1795.83 1121.7) rotate(-90) scale(1 1.042)">Aspergillimide</text><text transform="translate(1817.47 1121.7) rotate(-90) scale(1 1.042)">Aspernomine</text><text transform="translate(1839.12 1121.7) rotate(-90) scale(1 1.042)">Dehydrocarolic Acid</text><text transform="translate(1860.78 1121.7) rotate(-90) scale(1 1.042)">Paspalinins</text><text transform="translate(1882.42 1121.7) rotate(-90) scale(1 1.042)">Siderin</text><text transform="translate(1904.08 1121.7) rotate(-90) scale(1 1.042)">Asterric acid</text><text transform="translate(1925.72 1121.7) rotate(-90) scale(1 1.042)">Austdiol</text><text transform="translate(1947.38 1121.7) rotate(-90) scale(1 1.042)">Candidusin A</text><text transform="translate(1969.03 1121.7) rotate(-90) scale(1 1.042)">Decaturin X</text><text transform="translate(1990.67 1121.7) rotate(-90) scale(1 1.042)">Pyrophen</text><text transform="translate(2012.33 1121.7) rotate(-90) scale(1 1.042)">Sclerotionigerin A</text><text transform="translate(2033.97 1121.7) rotate(-90) scale(1 1.042)">Terphenyllin</text><text transform="translate(2055.62 1121.7) rotate(-90) scale(1 1.042)">Xanthoascin</text><text transform="translate(2077.28 1121.7) rotate(-90) scale(1 1.042)">Yanuthone D</text></g>
<text transform="translate(1704.8 1418) scale(1 1.042)" text-anchor="middle" font-size="27">Metabolite families</text>
<path d="M2105.1 35.2V192.3M2105.1 382.7V566.8M2105.1 574.1V738M2105.1 938V1107.6" stroke="#000" stroke-width="3.5" fill="none"/>
<g font-size="27" text-anchor="middle"><text transform="translate(2096.2 280.1) rotate(90) scale(1 1.042)">Biseriates</text><text transform="translate(2096.2 837.8) rotate(90) scale(1 1.042)">Uniseriates</text></g>
</svg>
</body></html>
